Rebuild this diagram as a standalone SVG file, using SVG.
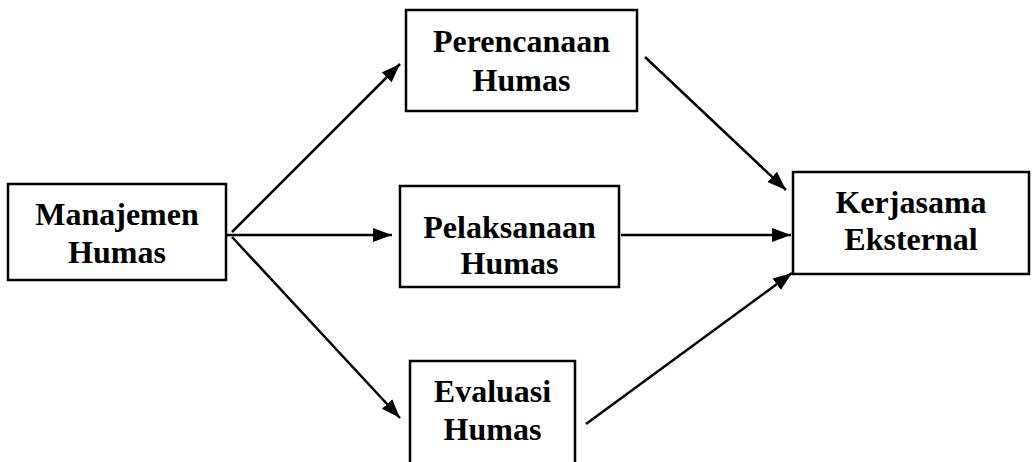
<svg xmlns="http://www.w3.org/2000/svg" width="1033" height="462" viewBox="0 0 1033 462">
<style>
.box{fill:#fff;stroke:#000;stroke-width:2.5}
.lbl{font-family:"Liberation Serif","Times New Roman",serif;font-weight:bold;font-size:32px;fill:#000;text-anchor:middle}
.con{stroke:#000;stroke-width:2.5;fill:none;marker-end:url(#ah)}
</style>
<defs>
<marker id="ah" markerUnits="userSpaceOnUse" markerWidth="20" markerHeight="16" refX="19" refY="8" orient="auto">
<path d="M0,1 L19,8 L0,15 z" fill="#000"/>
</marker>
</defs>
<rect width="1033" height="462" fill="#fff"/>
<g id="connectors">
<line class="con" x1="232" y1="232" x2="400" y2="64"/>
<line class="con" x1="226" y1="235" x2="392" y2="235"/>
<line class="con" x1="232" y1="237" x2="400" y2="418"/>
<line class="con" x1="645" y1="57" x2="786" y2="190"/>
<line class="con" x1="621" y1="235" x2="791" y2="235"/>
<line class="con" x1="586" y1="424" x2="792" y2="273"/>
</g>
<g id="manajemen">
<rect class="box" x="8" y="184" width="218" height="96"/>
<text class="lbl" x="117" y="225">Manajemen</text>
<text class="lbl" x="117" y="263">Humas</text>
</g>
<g id="perencanaan">
<rect class="box" x="406" y="10" width="231" height="101"/>
<text class="lbl" x="521.5" y="52">Perencanaan</text>
<text class="lbl" x="521.5" y="91">Humas</text>
</g>
<g id="pelaksanaan">
<rect class="box" x="400" y="186" width="219" height="101"/>
<text class="lbl" x="509.5" y="238">Pelaksanaan</text>
<text class="lbl" x="509.5" y="274">Humas</text>
</g>
<g id="evaluasi">
<rect class="box" x="410" y="361" width="165" height="110"/>
<text class="lbl" x="492.5" y="402">Evaluasi</text>
<text class="lbl" x="492.5" y="440">Humas</text>
</g>
<g id="kerjasama">
<rect class="box" x="793" y="172" width="236" height="102"/>
<text class="lbl" x="911" y="213">Kerjasama</text>
<text class="lbl" x="911" y="250">Eksternal</text>
</g>
</svg>
